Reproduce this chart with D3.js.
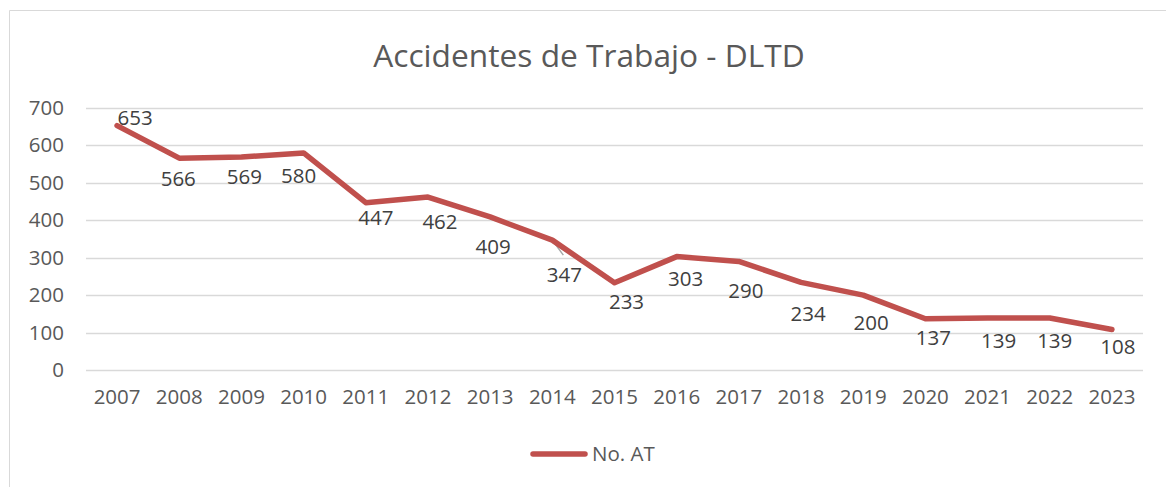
<!DOCTYPE html>
<meta charset="utf-8">
<script src="https://cdn.jsdelivr.net/npm/d3@7"></script>
<style>
  body { margin: 0; background: #fff; }
  text { font-family: "Open Sans", sans-serif; }
</style>
<div id="vis"></div>
<script>
// data
const years = ["2007","2008","2009","2010","2011","2012","2013","2014","2015","2016","2017","2018","2019","2020","2021","2022","2023"];
const accidents = [653, 566, 569, 580, 447, 462, 409, 347, 233, 303, 290, 234, 200, 137, 139, 139, 108];
const yTicks = [0, 100, 200, 300, 400, 500, 600, 700];
const seriesName = "No. AT";
const title = "Accidentes de Trabajo - DLTD";

// label nudges (dx, dy) relative to each point, as placed in the original
const labelNudge = [[18,-8],[-1,21],[3,20],[-5,23],[10,15],[12,25],[3,30],[12,35],[12,19],[9,22],[7,29],[7,31],[8,28],[8,19],[11,23],[5,23],[6,17]];

const W = 1166, H = 487;
const margin = {top: 108, right: 23, bottom: 117, left: 86};

const svg = d3.select("#vis").append("svg")
  .attr("width", W)
  .attr("height", H);

// chart frame (only top/left edges visible)
svg.append("path")
  .attr("d", "M9.5,487 V10.5 H1166")
  .attr("fill", "none")
  .attr("stroke", "#d9d9d9")
  .attr("stroke-width", 1);

svg.append("text")
  .attr("x", 589)
  .attr("y", 67)
  .attr("text-anchor", "middle")
  .attr("font-size", 31.7)
  .attr("fill", "#595959")
  .text(title);

const x = d3.scaleBand()
  .domain(years)
  .range([margin.left, W - margin.right]);

const y = d3.scaleLinear()
  .domain([0, 700])
  .range([H - margin.bottom, margin.top]);

// gridlines
svg.append("g")
  .selectAll("line")
  .data(yTicks)
  .join("line")
  .attr("x1", margin.left)
  .attr("x2", W - margin.right)
  .attr("y1", d => Math.round(y(d)) + 0.5)
  .attr("y2", d => Math.round(y(d)) + 0.5)
  .attr("stroke", "#d9d9d9")
  .attr("stroke-width", 1.5);

// y axis labels
const yAxis = svg.append("g")
  .attr("transform", `translate(${margin.left},0)`)
  .call(d3.axisLeft(y).tickValues(yTicks).tickSize(0).tickPadding(22));
yAxis.select(".domain").remove();
yAxis.selectAll("text")
  .attr("font-family", "Open Sans, sans-serif")
  .attr("font-size", 20.5)
  .attr("fill", "#595959");

// x axis labels
const xAxis = svg.append("g")
  .attr("transform", `translate(0,${H - margin.bottom})`)
  .call(d3.axisBottom(x).tickSize(0).tickPadding(19));
xAxis.select(".domain").remove();
xAxis.selectAll("text")
  .attr("font-family", "Open Sans, sans-serif")
  .attr("font-size", 20.5)
  .attr("fill", "#595959");

const cx = (d, i) => x(years[i]) + x.bandwidth() / 2;

const line = d3.line()
  .x(cx)
  .y(d => y(d));

// leader line of the 2014 label (partly hidden under the series)
const iLead = years.indexOf("2014");
svg.append("line")
  .attr("x1", cx(null, iLead))
  .attr("y1", y(accidents[iLead]))
  .attr("x2", cx(null, iLead) + 11)
  .attr("y2", y(accidents[iLead]) + 15)
  .attr("stroke", "#a6a6a6")
  .attr("stroke-width", 1.5);

svg.append("path")
  .datum(accidents)
  .attr("d", line)
  .attr("fill", "none")
  .attr("stroke", "#c0504d")
  .attr("stroke-width", 5.5)
  .attr("stroke-linejoin", "round")
  .attr("stroke-linecap", "round");

// data labels
svg.append("g")
  .selectAll("text")
  .data(accidents)
  .join("text")
  .attr("x", (d, i) => cx(d, i) + labelNudge[i][0])
  .attr("y", (d, i) => y(d) + labelNudge[i][1])
  .attr("dy", "0.35em")
  .attr("text-anchor", "middle")
  .attr("font-size", 20.5)
  .attr("fill", "#404040")
  .text(d => d);

// legend
const lg = svg.append("g").attr("transform", "translate(533,454)");
lg.append("line")
  .attr("x1", 0).attr("x2", 52)
  .attr("y1", 0).attr("y2", 0)
  .attr("stroke", "#c0504d")
  .attr("stroke-width", 5.5)
  .attr("stroke-linecap", "round");
lg.append("text")
  .attr("x", 59)
  .attr("y", 0)
  .attr("dy", "0.35em")
  .attr("font-size", 20.5)
  .attr("fill", "#595959")
  .text(seriesName);
</script>
